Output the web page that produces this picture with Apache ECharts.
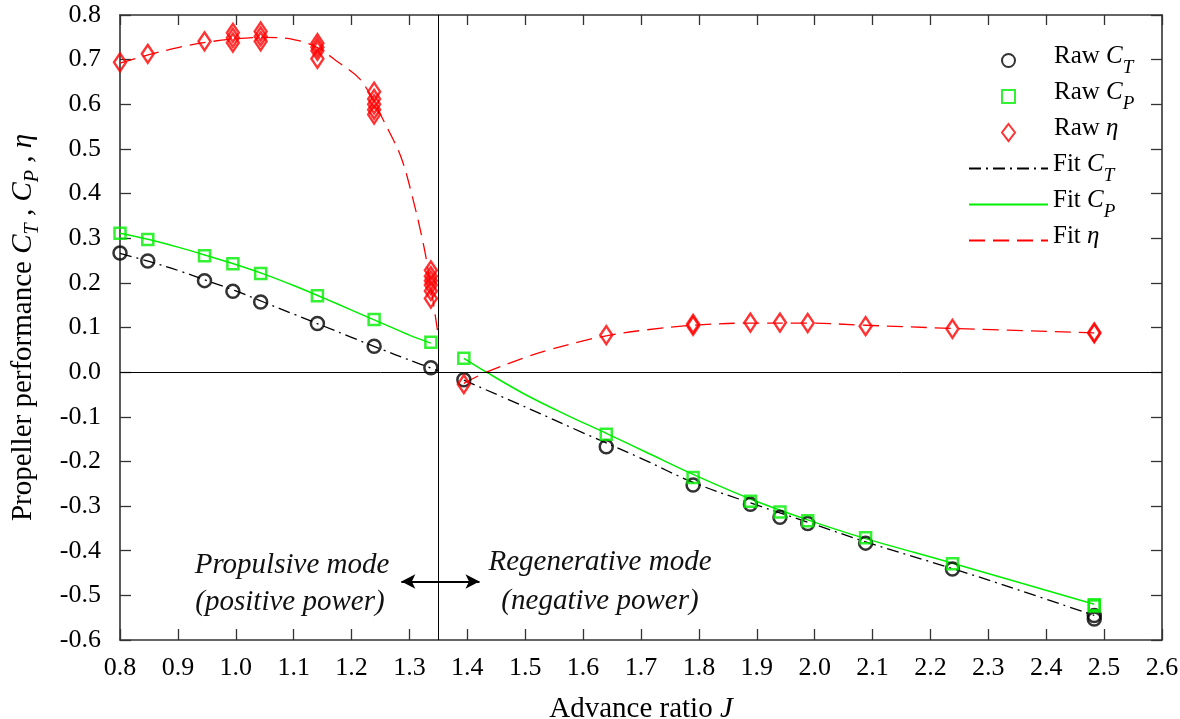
<!DOCTYPE html>
<html>
<head>
<meta charset="utf-8">
<script src="https://cdn.jsdelivr.net/npm/echarts@6/dist/echarts.min.js"></script>
<style>html,body{margin:0;padding:0;background:#fff;}#c{width:1180px;height:719px;}</style>
</head>
<body>
<div id="c"></div>
<script>
// ---------- data ----------
const xTicks = { min: 0.8, max: 2.6, interval: 0.1 };
const yTicks = { min: -0.6, max: 0.8, interval: 0.1 };

// raw thrust / power coefficients
const jRaw  = [0.800, 0.848, 0.946, 0.995, 1.043, 1.141, 1.239, 1.337, 1.394, 1.640, 1.790, 1.889, 1.940, 1.988, 2.088, 2.238, 2.483, 2.483];
const ctRaw = [0.267, 0.249, 0.205, 0.181, 0.157, 0.109, 0.058, 0.010, -0.017, -0.167, -0.253, -0.296, -0.325, -0.339, -0.383, -0.441, -0.545, -0.553];
const cpRaw = [0.311, 0.297, 0.261, 0.243, 0.221, 0.171, 0.118, 0.067, 0.031, -0.139, -0.236, -0.289, -0.313, -0.333, -0.371, -0.429, -0.521, -0.524];

// raw efficiency (repeated measurements at the same J)
const jEta   = [0.800, 0.848, 0.946, 0.995, 0.995, 0.995, 1.043, 1.043, 1.043, 1.141, 1.141, 1.141, 1.141,
                1.239, 1.239, 1.239, 1.239, 1.239, 1.337, 1.337, 1.337, 1.337, 1.337, 1.337,
                1.394, 1.640, 1.790, 1.790, 1.889, 1.940, 1.988, 2.088, 2.238, 2.483, 2.483];
const etaRaw = [0.694, 0.713, 0.741, 0.760, 0.749, 0.738, 0.763, 0.752, 0.741, 0.737, 0.728, 0.720, 0.702,
                0.628, 0.612, 0.600, 0.588, 0.577, 0.228, 0.215, 0.205, 0.195, 0.182, 0.165,
                -0.027, 0.083, 0.104, 0.108, 0.111, 0.111, 0.110, 0.103, 0.097, 0.087, 0.089];

// fitted curves (propulsive branch "A", regenerative branch "B")
const jFitCtA = [0.800, 0.850, 0.900, 0.950, 1.000, 1.050, 1.100, 1.150, 1.200, 1.250, 1.300, 1.350];
const fitCtA  = [0.266, 0.248, 0.228, 0.205, 0.182, 0.156, 0.130, 0.104, 0.078, 0.052, 0.027, 0.003];
const jFitCtB = [1.394, 1.500, 1.600, 1.700, 1.790, 1.889, 1.988, 2.088, 2.238, 2.350, 2.483];
const fitCtB  = [-0.018, -0.078, -0.136, -0.193, -0.247, -0.293, -0.336, -0.380, -0.440, -0.487, -0.545];

const jFitCpA = [0.800, 0.850, 0.900, 0.950, 1.000, 1.050, 1.100, 1.150, 1.200, 1.250, 1.300, 1.337];
const fitCpA  = [0.311, 0.297, 0.280, 0.261, 0.241, 0.219, 0.194, 0.167, 0.139, 0.111, 0.083, 0.065];
const jFitCpB = [1.394, 1.433, 1.500, 1.570, 1.640, 1.710, 1.790, 1.889, 1.988, 2.078, 2.238, 2.483];
const fitCpB  = [0.031, 0.000, -0.050, -0.095, -0.137, -0.180, -0.229, -0.284, -0.331, -0.369, -0.428, -0.520];

const jFitEtaA = [0.800, 0.850, 0.900, 0.950, 1.000, 1.050, 1.100, 1.141, 1.174, 1.214, 1.239, 1.254, 1.285, 1.305, 1.325, 1.337, 1.350];
const fitEtaA  = [0.692, 0.711, 0.727, 0.739, 0.747, 0.750, 0.745, 0.727, 0.697, 0.657, 0.605, 0.567, 0.483, 0.393, 0.281, 0.191, 0.080];
const jFitEtaB = [1.394, 1.433, 1.500, 1.538, 1.600, 1.642, 1.711, 1.790, 1.889, 1.988, 2.088, 2.238, 2.483];
const fitEtaB  = [-0.025, 0.000, 0.033, 0.049, 0.070, 0.082, 0.095, 0.105, 0.110, 0.110, 0.105, 0.098, 0.088];

// mode boundary and annotation arrow (data coordinates)
const modeBoundaryJ = 1.355;
const arrowFrom = [1.286, -0.469];
const arrowTo   = [1.421, -0.469];

const rawNames = ['Raw CT', 'Raw CP', 'Raw eta'];
const fitNames = ['Fit CT', 'Fit CP', 'Fit eta'];
// ---------------------------------------------------

const zip = (xs, ys) => xs.map((x, i) => [x, ys[i]]);
const FONT = '"Liberation Serif","Times New Roman",serif';
const GREEN = '#00ee00', RED = '#ff0000', BLACK = '#000000', AX = '#333333';

const richBase = (fs, sub, L) => ({
  sp: { width: 34, fontSize: fs, lineHeight: L, verticalAlign: 'top' },
  n: { fontFamily: FONT, fontSize: fs, color: '#000', lineHeight: L, verticalAlign: 'top' },
  i: { fontFamily: FONT, fontSize: fs, fontStyle: 'italic', color: '#000', lineHeight: L, verticalAlign: 'top' },
  s: { fontFamily: FONT, fontSize: sub, fontStyle: 'italic', color: '#000', verticalAlign: 'bottom' }
});

const legendLabel = {
  'Raw CT': '{sp| }{n|Raw }{i|C}{s|T}',
  'Raw CP': '{sp| }{n|Raw }{i|C}{s|P}',
  'Raw eta': '{sp| }{n|Raw }{i|η}',
  'Fit CT': '{n|Fit }{i|C}{s|T}',
  'Fit CP': '{n|Fit }{i|C}{s|P}',
  'Fit eta': '{n|Fit }{i|η}'
};

const tickLabel = (margin) => ({
  margin, showMinLabel: true, showMaxLabel: true, hideOverlap: false,
  fontFamily: FONT, fontSize: 26, color: '#000',
  formatter: v => v.toFixed(1)
});

const chart = echarts.init(document.getElementById('c'), null, { renderer: 'canvas' });

const fitLine = (name, data, color, type, width) => ({
  name, type: 'line', data, smooth: 0.35, symbol: 'none', showSymbol: false,
  lineStyle: { color, width, type }, itemStyle: { color }, z: 2, silent: true
});
const rawScatter = (name, data, symbol, size, color, bw) => ({
  name, type: 'scatter', data, symbol, symbolSize: size,
  itemStyle: { color: 'rgba(0,0,0,0)', borderColor: color, borderWidth: bw }, z: 4, silent: true
});

const fitCtSeriesA = fitLine('Fit CT', zip(jFitCtA, fitCtA), BLACK, [12, 5, 2, 5], 1.3);
fitCtSeriesA.markLine = {
  silent: true, symbol: ['none', 'none'], label: { show: false },
  lineStyle: { color: '#000', width: 1, type: 'solid' },
  data: [{ yAxis: 0 }, { xAxis: modeBoundaryJ }]
};
const fitCpSeriesA = fitLine('Fit CP', zip(jFitCpA, fitCpA), GREEN, 'solid', 1.5);
fitCpSeriesA.markLine = {
  silent: true, symbol: ['arrow', 'arrow'], symbolSize: [11, 14], label: { show: false },
  lineStyle: { color: '#000', width: 2, type: 'solid' },
  data: [[{ coord: arrowFrom, itemStyle: { color: '#000' } }, { coord: arrowTo, itemStyle: { color: '#000' } }]]
};

const annFont = 'italic 29px "Liberation Serif"';
const option = {
  animation: false,
  backgroundColor: '#fff',
  grid: { left: 120, right: 18, top: 15, bottom: 79, containLabel: false, outerBoundsMode: 'none' },
  legend: [{
    data: [{ name: 'Raw CT' }, { name: 'Raw CP', icon: 'path://M0,0L10,0L10,10L0,10Z' }, { name: 'Raw eta' }],
    orient: 'vertical', left: 1001, top: 44, padding: 0,
    itemWidth: 13, itemHeight: 17, itemGap: 3,
    selectedMode: false,
    formatter: n => legendLabel[n],
    textStyle: { fontFamily: FONT, fontSize: 25, color: '#000', rich: richBase(25, 19, 33) }
  }, {
    data: fitNames,
    orient: 'vertical', left: 968, top: 152, padding: 0,
    itemWidth: 79, itemHeight: 13, itemGap: 3,
    selectedMode: false,
    itemStyle: { color: 'rgba(0,0,0,0)', borderColor: 'rgba(0,0,0,0)', borderWidth: 0 },
    formatter: n => legendLabel[n],
    textStyle: { fontFamily: FONT, fontSize: 25, color: '#000', rich: richBase(25, 19, 33) }
  }],
  xAxis: [{
    type: 'value', min: xTicks.min, max: xTicks.max, interval: xTicks.interval,
    name: '{n|Advance ratio }{i|J}', nameLocation: 'middle', nameGap: 55,
    nameTextStyle: { rich: richBase(29, 20, 30) },
    axisLine: { onZero: false, lineStyle: { color: AX, width: 1.6 } },
    axisTick: { inside: true, length: 11, lineStyle: { color: AX, width: 1.3 } },
    axisLabel: tickLabel(15),
    splitLine: { show: false }
  }, {
    type: 'value', position: 'top', min: xTicks.min, max: xTicks.max, interval: xTicks.interval,
    axisLine: { onZero: false, lineStyle: { color: AX, width: 1.6 } },
    axisTick: { inside: true, length: 10, lineStyle: { color: AX, width: 1.3 } },
    axisLabel: { show: false }, splitLine: { show: false }
  }],
  yAxis: [{
    type: 'value', min: yTicks.min, max: yTicks.max, interval: yTicks.interval,
    name: '{n|Propeller performance }{i|C}{s|T}{n| , }{i|C}{s|P}{n| , }{i|η}',
    nameLocation: 'middle', nameRotate: 90, nameGap: 77,
    nameTextStyle: { rich: richBase(29, 20, 34) },
    axisLine: { onZero: false, lineStyle: { color: AX, width: 1.6 } },
    axisTick: { inside: true, length: 11, lineStyle: { color: AX, width: 1.3 } },
    axisLabel: tickLabel(19),
    splitLine: { show: false }
  }, {
    type: 'value', position: 'right', min: yTicks.min, max: yTicks.max, interval: yTicks.interval,
    axisLine: { onZero: false, lineStyle: { color: AX, width: 1.6 } },
    axisTick: { inside: true, length: 11, lineStyle: { color: AX, width: 1.3 } },
    axisLabel: { show: false }, splitLine: { show: false }
  }],
  graphic: [
    { type: 'text', x: 292, y: 565, style: { text: 'Propulsive mode', font: annFont, fill: '#111', align: 'center', verticalAlign: 'middle' }, z: 10 },
    { type: 'text', x: 290, y: 602, style: { text: '(positive power)', font: annFont, fill: '#111', align: 'center', verticalAlign: 'middle' }, z: 10 },
    { type: 'text', x: 600, y: 562, style: { text: 'Regenerative mode', font: annFont, fill: '#111', align: 'center', verticalAlign: 'middle' }, z: 10 },
    { type: 'text', x: 600, y: 601, style: { text: '(negative power)', font: annFont, fill: '#111', align: 'center', verticalAlign: 'middle' }, z: 10 }
  ],
  series: [
    fitCtSeriesA,
    fitLine('Fit CT', zip(jFitCtB, fitCtB), BLACK, [12, 5, 2, 5], 1.3),
    fitCpSeriesA,
    fitLine('Fit CP', zip(jFitCpB, fitCpB), GREEN, 'solid', 1.5),
    fitLine('Fit eta', zip(jFitEtaA, fitEtaA), RED, [16, 8], 1.3),
    fitLine('Fit eta', zip(jFitEtaB, fitEtaB), RED, [16, 8], 1.3),
    rawScatter('Raw CT', zip(jRaw, ctRaw), 'circle', 13, BLACK, 2.5),
    rawScatter('Raw CP', zip(jRaw, cpRaw), 'rect', 11, GREEN, 2.5),
    rawScatter('Raw eta', zip(jEta, etaRaw), 'diamond', [12, 18], RED, 2.5)
  ]
};
chart.setOption(option);
</script>
</body>
</html>
